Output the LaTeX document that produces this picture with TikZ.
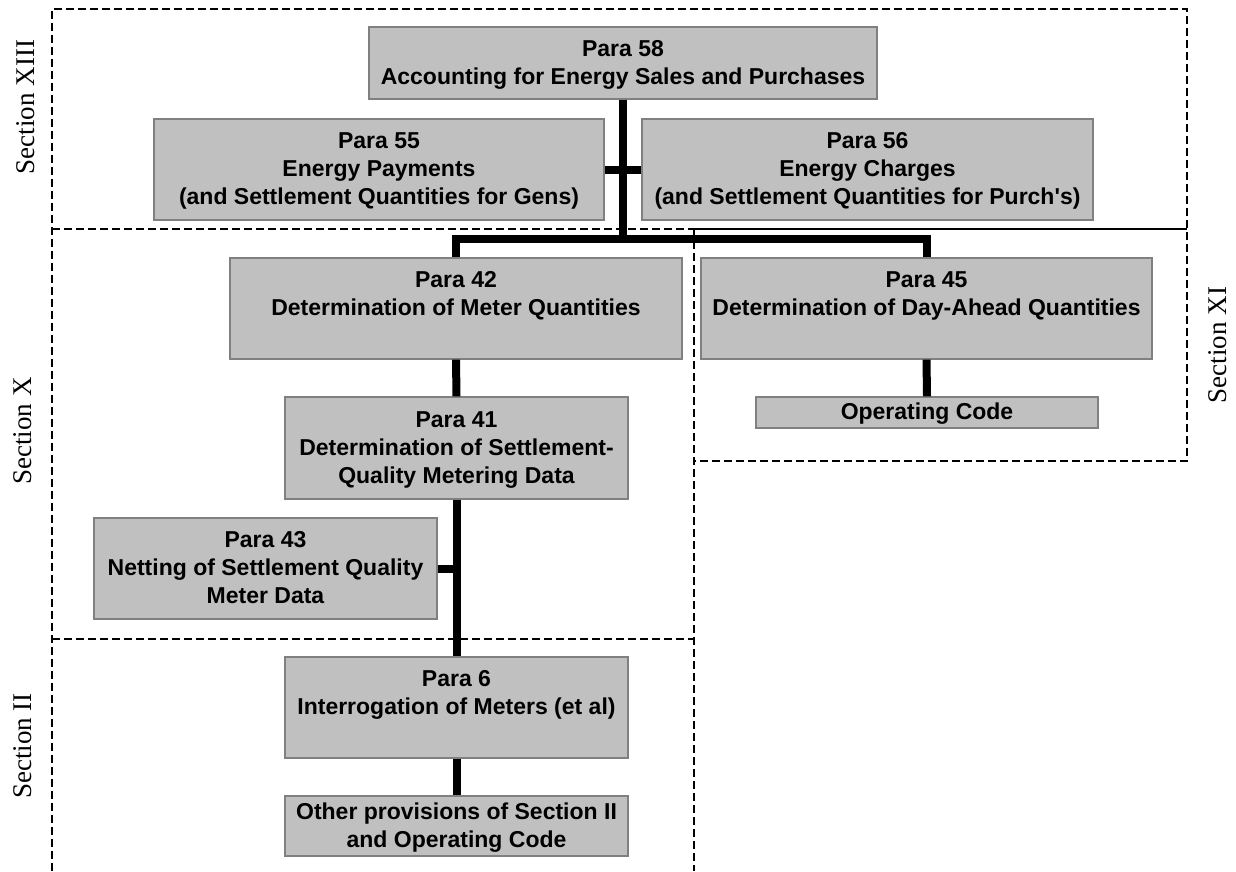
\documentclass[tikz,border=0pt]{standalone}
\usepackage{fontspec}
\setmainfont{Liberation Serif}
\newfontfamily\boxfont{Liberation Sans}[Ligatures=TeXOff]
% uniform line strut for the box texts
\newcommand{\bs}{\rule[-7pt]{0pt}{28pt}}
\definecolor{boxfill}{RGB}{192,192,192}
\definecolor{boxedge}{RGB}{128,128,128}

\begin{document}
\begin{tikzpicture}[x=1pt,y=-1pt,
  box/.style={draw=boxedge, fill=boxfill, line width=1.2pt, inner sep=0pt,
    align=center, font=\boxfont\bfseries\fontsize{23}{28}\selectfont},
  section/.style={dash pattern=on 8pt off 4pt, line width=1.6pt},
  link/.style={line width=8pt, line join=miter},
  seclabel/.style={rotate=90, font=\fontsize{27}{32}\selectfont, inner sep=0pt}]
\useasboundingbox (0,0) rectangle (1236,871);

% section frames
\draw[section] (52,871) -- (52,9) -- (1187,9) -- (1187,461) -- (694,461);
\draw[section] (52,229) -- (694,229);
\draw[line width=1.6pt] (694,229) -- (1187,229);
\draw[section] (694,229) -- (694,871);
\draw[section] (52,639) -- (694,639);

% section labels
\node[seclabel] (sXIII) at (26,107) {Section XIII};
\node[seclabel] (sX) at (23,431) {Section X};
\node[seclabel] (sXI) at (1218,345) {Section XI};
\node[seclabel] (sII) at (23,746) {Section II};

% paragraph boxes
\node[box, minimum width=508, minimum height=72] (p58) at (623,63)
  {\bs Para 58\\Accounting for Energy Sales and Purchases\bs};
\node[box, minimum width=450, minimum height=101] (p55) at (379,169.5)
  {\bs Para 55\\Energy Payments\\(and Settlement Quantities for Gens)\bs};
\node[box, minimum width=451, minimum height=101] (p56) at (867.5,169.5)
  {\bs Para 56\\Energy Charges\\(and Settlement Quantities for Purch's)\bs};
\node[box, minimum width=452, minimum height=101] (p42) at (456,308.5)
  {\bs Para 42\\Determination of Meter Quantities\\\bs};
\node[box, minimum width=451, minimum height=101] (p45) at (926.5,308.5)
  {\bs Para 45\\Determination of Day-Ahead Quantities\\\bs};
\node[box, minimum width=342, minimum height=31] (oc) at (927,412.5)
  {\bs Operating Code\bs};
\node[box, minimum width=343, minimum height=102] (p41) at (456.5,448)
  {\bs Para 41\\Determination of Settlement-\\Quality Metering Data\bs};
\node[box, minimum width=343, minimum height=101] (p43) at (265.5,568.5)
  {\bs Para 43\\Netting of Settlement Quality\\Meter Data\bs};
\node[box, minimum width=343, minimum height=101] (p6) at (456.5,707.5)
  {\bs Para 6\\Interrogation of Meters (et al)\\\bs};
\node[box, minimum width=343, minimum height=60] (other) at (456.5,826)
  {\bs Other provisions of Section II\\and Operating Code\bs};

% connectors
\coordinate (bus) at (623,239);
\draw[link] (p58.south) -- (bus);
\draw[link] (p42.north) |- (bus) -| (p45.north);
\draw[link] (p55.east) -- (p56.west);
\draw[link] (p42.south) -- (p41.north);
\draw[link] (p41.south) -- (p6.north);
\draw[link] (p43.east) -- (p43.east -| p41.south);
\draw[link] (p45.south) -- (oc.north);
\draw[link] (p6.south) -- (other.north);
\end{tikzpicture}
\end{document}
